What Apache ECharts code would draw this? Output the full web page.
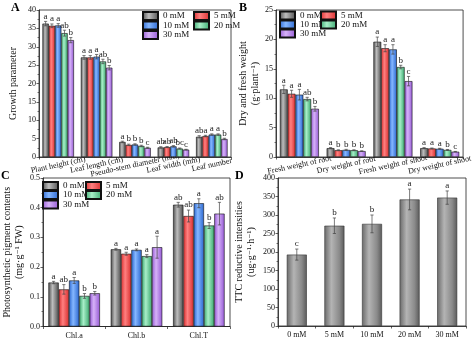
<!DOCTYPE html>
<html><head><meta charset="utf-8">
<script src="https://cdn.jsdelivr.net/npm/echarts@6/dist/echarts.min.js"></script>
<style>html,body{margin:0;padding:0;background:#fff}#c{width:474px;height:340px}</style>
</head><body><div id="c"></div>
<script>
// ---------- DATA ----------
const concentrations = ['0 mM', '5 mM', '10 mM', '20 mM', '30 mM'];

// Panel A: growth parameters
const catsA = ['Plant height (cm)', 'Leaf length (cm)', 'Pseudo-stem diameter (mm)', 'Leaf width (mm)', 'Leaf number'];
const A_0mM  = [36.3, 27.1, 4.1, 2.6, 5.5];
const A_5mM  = [35.7, 27.1, 3.3, 2.7, 5.7];
const A_10mM = [35.8, 27.3, 3.4, 2.9, 6.1];
const A_20mM = [33.7, 26.0, 3.0, 2.3, 6.1];
const A_30mM = [31.8, 24.3, 2.5, 2.0, 4.9];
const A_err_0mM  = [0.6, 0.5, 0.2, 0.2, 0.3];
const A_err_5mM  = [0.5, 0.5, 0.2, 0.15, 0.2];
const A_err_10mM = [0.5, 0.6, 0.2, 0.2, 0.2];
const A_err_20mM = [0.8, 0.6, 0.2, 0.15, 0.2];
const A_err_30mM = [0.7, 0.6, 0.15, 0.1, 0.2];
const A_sig_0mM  = ['a', 'a', 'a', 'ab', 'ab'];
const A_sig_5mM  = ['a', 'a', 'b', 'ab', 'a'];
const A_sig_10mM = ['a', 'a', 'b', 'ab', 'a'];
const A_sig_20mM = ['ab', 'ab', 'b', 'bc', 'a'];
const A_sig_30mM = ['b', 'b', 'c', 'c', 'b'];
const A_ticks = [0, 40, 5];

// Panel B: dry and fresh weight
const catsB = ['Fresh weight of root', 'Dry weight of root', 'Fresh weight of shoot', 'Dry weight of shoot'];
const B_0mM  = [11.5, 1.5, 19.6, 1.5];
const B_5mM  = [10.75, 1.15, 18.5, 1.45];
const B_10mM = [10.6, 1.2, 18.3, 1.4];
const B_20mM = [9.85, 1.15, 15.3, 1.2];
const B_30mM = [8.2, 1.0, 12.9, 0.9];
const B_err_0mM  = [0.7, 0.1, 0.8, 0.1];
const B_err_5mM  = [0.6, 0.08, 0.6, 0.08];
const B_err_10mM = [0.9, 0.1, 0.8, 0.08];
const B_err_20mM = [0.3, 0.08, 0.3, 0.08];
const B_err_30mM = [0.4, 0.05, 0.8, 0.05];
const B_sig_0mM  = ['a', 'a', 'a', 'a'];
const B_sig_5mM  = ['a', 'b', 'a', 'a'];
const B_sig_10mM = ['a', 'b', 'a', 'a'];
const B_sig_20mM = ['ab', 'b', 'b', 'b'];
const B_sig_30mM = ['b', 'b', 'c', 'c'];
const B_ticks = [0, 25, 5];

// Panel C: photosynthetic pigments
const catsC = ['Chl.a', 'Chl.b', 'Chl.T'];
const C_0mM  = [0.148, 0.260, 0.410];
const C_5mM  = [0.125, 0.245, 0.372];
const C_10mM = [0.155, 0.258, 0.415];
const C_20mM = [0.103, 0.237, 0.340];
const C_30mM = [0.112, 0.267, 0.380];
const C_err_0mM  = [0.004, 0.003, 0.008];
const C_err_5mM  = [0.016, 0.005, 0.020];
const C_err_10mM = [0.010, 0.003, 0.015];
const C_err_20mM = [0.008, 0.005, 0.010];
const C_err_30mM = [0.006, 0.037, 0.038];
const C_sig_0mM  = ['a', 'a', 'ab'];
const C_sig_5mM  = ['ab', 'a', 'ab'];
const C_sig_10mM = ['a', 'a', 'a'];
const C_sig_20mM = ['b', 'a', 'b'];
const C_sig_30mM = ['b', 'a', 'ab'];
const C_ticks = [0, 0.5, 0.1];

// Panel D: TTC reductive intensities
const catsD = ['0 mM', '5 mM', '10 mM', '20 mM', '30 mM'];
const D_values = [193, 271, 276, 342, 347];
const D_err    = [15, 21, 24, 28, 18];
const D_sig    = ['c', 'b', 'b', 'a', 'a'];
const D_ticks = [0, 400, 50];

// ---------- STYLE ----------
const FONT = '"Liberation Serif", "DejaVu Serif", serif';
const palette = [
  ['#4e4e4e', '#bdbdbd'],
  ['#d92e2e', '#ff8080'],
  ['#2a66cf', '#85b7ff'],
  ['#3aa86e', '#a8eec8'],
  ['#9458d4', '#d6b2f8']
];
function grad(c) {
  return new echarts.graphic.LinearGradient(0, 0, 1, 0, [
    {offset: 0, color: c[0]}, {offset: 0.4, color: c[1]}, {offset: 1, color: c[0]}
  ]);
}

const panels = [
  {cats: catsA, vals: [A_0mM, A_5mM, A_10mM, A_20mM, A_30mM], errs: [A_err_0mM, A_err_5mM, A_err_10mM, A_err_20mM, A_err_30mM],
   sigs: [A_sig_0mM, A_sig_5mM, A_sig_10mM, A_sig_20mM, A_sig_30mM], ticks: A_ticks,
   grid: {left: 39, top: 10, width: 192, height: 147}, bw: 6.3, name: 'Growth parameter', nameGap: 20, rotate: 12, dec: 0},
  {cats: catsB, vals: [B_0mM, B_5mM, B_10mM, B_20mM, B_30mM], errs: [B_err_0mM, B_err_5mM, B_err_10mM, B_err_20mM, B_err_30mM],
   sigs: [B_sig_0mM, B_sig_5mM, B_sig_10mM, B_sig_20mM, B_sig_30mM], ticks: B_ticks,
   grid: {left: 276, top: 10, width: 194, height: 147}, bw: 7.8, name: 'Dry and fresh weight\n(g·plant⁻¹)', nameGap: 12, rotate: 12, dec: 0},
  {cats: catsC, vals: [C_0mM, C_5mM, C_10mM, C_20mM, C_30mM], errs: [C_err_0mM, C_err_5mM, C_err_10mM, C_err_20mM, C_err_30mM],
   sigs: [C_sig_0mM, C_sig_5mM, C_sig_10mM, C_sig_20mM, C_sig_30mM], ticks: C_ticks,
   grid: {left: 39, top: 178, width: 191, height: 148.5}, bw: 10.3, name: 'Photosynthetic pigment contents\n(mg·g⁻¹ FW)', nameGap: 18, rotate: 0, dec: 1}
];

const grids = [], xAxes = [], yAxes = [], series = [];

function errRender(offset, letters, color) {
  return function (params, api) {
    const ci = api.value(0), v = api.value(1), e = api.value(2);
    const pt = api.coord([ci, v + e]);
    const pb = api.coord([ci, v - e]);
    const x = pt[0] + offset;
    const cap = 1.6;
    const st = {stroke: color, lineWidth: 0.7};
    return {type: 'group', children: [
      {type: 'line', shape: {x1: x, y1: pt[1], x2: x, y2: pb[1]}, style: st},
      {type: 'line', shape: {x1: x - cap, y1: pt[1], x2: x + cap, y2: pt[1]}, style: st},
      {type: 'line', shape: {x1: x - cap, y1: pb[1], x2: x + cap, y2: pb[1]}, style: st},
      {type: 'text', x: x, y: pt[1] - 0.5, style: {text: letters[params.dataIndex], fill: '#222',
        fontSize: 9, fontFamily: FONT, align: 'center', verticalAlign: 'bottom', textAlign: 'center', textVerticalAlign: 'bottom'}}
    ]};
  };
}

function makeAxes(idx, grid, cats, ticks, name, nameGap, rotate, dec) {
  grids.push(Object.assign({show: true, borderColor: '#222', borderWidth: 0.8, containLabel: false}, grid));
  xAxes.push({type: 'category', gridIndex: idx, data: cats,
    axisLine: {lineStyle: {color: '#222', width: 0.8}},
    axisTick: {show: true, length: 2.5, lineStyle: {color: '#222', width: 0.7}},
    axisLabel: {interval: 0, rotate: rotate, align: rotate ? 'center' : undefined, margin: rotate ? 8 : 5,
      fontSize: 8, fontFamily: FONT, color: '#111'}});
  yAxes.push({type: 'value', gridIndex: idx, min: ticks[0], max: ticks[1], interval: ticks[2],
    name: name, nameLocation: 'middle', nameGap: nameGap,
    nameTextStyle: {fontSize: 10, fontFamily: FONT, color: '#111', lineHeight: 12},
    splitLine: {show: false},
    axisLine: {show: true, lineStyle: {color: '#222', width: 0.8}},
    axisTick: {show: true, length: 2.5, lineStyle: {color: '#222', width: 0.7}},
    minorTick: {show: true, splitNumber: 2, length: 1.5, lineStyle: {color: '#222', width: 0.6}},
    axisLabel: {fontSize: 8, fontFamily: FONT, color: '#111', margin: 3,
      formatter: v => dec ? v.toFixed(dec) : String(v)}});
}

panels.forEach((p, idx) => {
  makeAxes(idx, p.grid, p.cats, p.ticks, p.name, p.nameGap, p.rotate, p.dec);
  const n = concentrations.length;
  concentrations.forEach((c, i) => {
    series.push({type: 'bar', name: c, xAxisIndex: idx, yAxisIndex: idx, data: p.vals[i],
      barWidth: p.bw, barGap: '0%', itemStyle: {color: grad(palette[i]), borderColor: '#111', borderWidth: 0.6}, z: 2});
    const offset = (i - (n - 1) / 2) * p.bw;
    series.push({type: 'custom', xAxisIndex: idx, yAxisIndex: idx, z: 5, silent: true,
      data: p.cats.map((_, k) => [k, p.vals[i][k], p.errs[i][k]]),
      renderItem: errRender(offset, p.sigs[i], '#444')});
  });
});

// Panel D
makeAxes(3, {left: 278, top: 178, width: 188, height: 148}, catsD, D_ticks, 'TTC reductive intensities\n(ug·g⁻¹·h⁻¹)', 21, 0, 0);
series.push({type: 'bar', name: 'TTC', xAxisIndex: 3, yAxisIndex: 3, data: D_values, barWidth: 20,
  itemStyle: {color: new echarts.graphic.LinearGradient(0, 0, 1, 0, [
    {offset: 0, color: '#6a6a6a'}, {offset: 0.35, color: '#b4b4b4'}, {offset: 0.75, color: '#8a8a8a'}, {offset: 1, color: '#5a5a5a'}]),
    borderColor: '#333', borderWidth: 0.6}});
series.push({type: 'custom', xAxisIndex: 3, yAxisIndex: 3, z: 5, silent: true,
  data: catsD.map((_, k) => [k, D_values[k], D_err[k]]), renderItem: errRender(0, D_sig, '#444')});

// Legends (one component per item, laid out in two columns)
const legendPos = [
  [[142, 11], [193, 11], [142, 20.5], [193, 20.5], [142, 30]],
  [[279, 10.5], [320, 10.5], [279, 19.5], [320, 19.5], [279, 28.5]],
  [[42, 181], [85, 181], [42, 190], [85, 190], [42, 199.5]]
];
const legends = [];
legendPos.forEach(pos => {
  pos.forEach((p, i) => {
    legends.push({data: [concentrations[i]], left: p[0], top: p[1], padding: 0, itemGap: 0,
      itemWidth: 15, itemHeight: 8, icon: 'rect', selectedMode: false,
      textStyle: {fontSize: 9, fontFamily: FONT, color: '#111'}});
  });
});

const letterStyle = {fill: '#000', fontSize: 12, fontWeight: 'bold', fontFamily: FONT};
const option = {
  animation: false,
  backgroundColor: '#fff',
  grid: grids, xAxis: xAxes, yAxis: yAxes, series: series, legend: legends,
  graphic: [
    {type: 'text', left: 11, top: 2, style: Object.assign({text: 'A'}, letterStyle)},
    {type: 'text', left: 239, top: 2, style: Object.assign({text: 'B'}, letterStyle)},
    {type: 'text', left: 1, top: 170, style: Object.assign({text: 'C'}, letterStyle)},
    {type: 'text', left: 235, top: 170, style: Object.assign({text: 'D'}, letterStyle)}
  ]
};
const chart = echarts.init(document.getElementById('c'), null, {renderer: 'canvas'});
chart.setOption(option);
</script>
</body></html>
